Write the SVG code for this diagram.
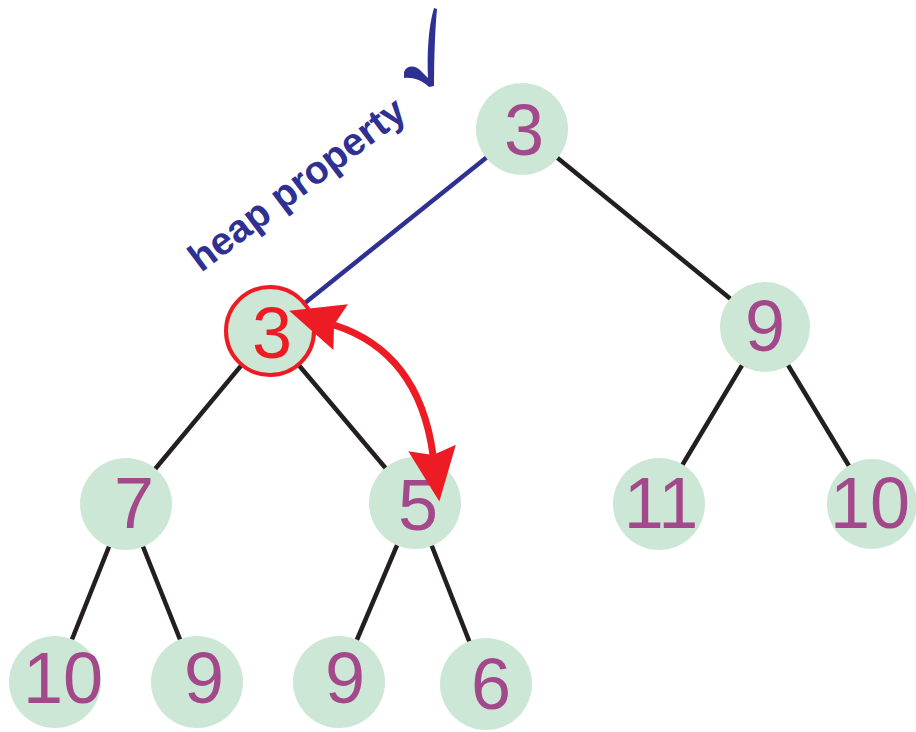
<svg xmlns="http://www.w3.org/2000/svg" width="916" height="732" viewBox="0 0 916 732">
  <style>
    .edge { stroke: #231f20; stroke-width: 4.5; fill: none; }
    .edge.ok { stroke: #2e3192; }
    .node circle { fill: #cde7d6; }
    .node text { font-family: "Liberation Sans", Arial, sans-serif; font-size: 72px; fill: #a3488a; text-anchor: middle; }
    .node.hot circle { stroke: #ed1c24; stroke-width: 4; }
    .node.hot text { fill: #ed1c24; }
    .swap { stroke: #ed1c24; stroke-width: 7; fill: none; }
    .note { font-family: "Liberation Sans", Arial, sans-serif; font-weight: bold; font-size: 39px; fill: #2e3192; }
  </style>
  <defs>
    <marker id="head" markerUnits="userSpaceOnUse" markerWidth="54" markerHeight="48" refX="7" refY="24" orient="auto-start-reverse" viewBox="0 0 54 48">
      <path d="M0,0 L54,24 L0,48 L7,24 Z" fill="#ed1c24"/>
    </marker>
  </defs>

  <!-- connectors -->
  <g id="edges">
    <line class="edge ok" x1="522" y1="129" x2="270" y2="331"/>
    <line class="edge" x1="522" y1="129" x2="765" y2="327"/>
    <line class="edge" x1="270" y1="331" x2="126" y2="504"/>
    <line class="edge" x1="270" y1="331" x2="415" y2="503"/>
    <line class="edge" x1="765" y1="327" x2="659" y2="504"/>
    <line class="edge" x1="765" y1="327" x2="872" y2="504"/>
    <line class="edge" x1="126" y1="504" x2="55" y2="682"/>
    <line class="edge" x1="126" y1="504" x2="197" y2="682"/>
    <line class="edge" x1="415" y1="503" x2="339" y2="682"/>
    <line class="edge" x1="415" y1="503" x2="486" y2="684"/>
  </g>

  <!-- nodes -->
  <g id="n-root" class="node"><circle cx="522" cy="129" r="46"/><text x="524" y="155">3</text></g>
  <g id="n-left" class="node hot"><circle cx="270" cy="331" r="44"/><text x="272" y="358">3</text></g>
  <g id="n-right" class="node"><circle cx="765" cy="327" r="45"/><text x="765" y="351">9</text></g>
  <g id="n-ll" class="node"><circle cx="126" cy="504" r="46"/><text x="134" y="528">7</text></g>
  <g id="n-lr" class="node"><circle cx="415" cy="503" r="46"/><text x="418" y="530">5</text></g>
  <g id="n-rl" class="node"><circle cx="659" cy="504" r="46"/><text x="661" y="528">11</text></g>
  <g id="n-rr" class="node"><circle cx="872" cy="504" r="45"/><text x="870" y="528">10</text></g>
  <g id="n-lll" class="node"><circle cx="55" cy="682" r="46"/><text x="63" y="703">10</text></g>
  <g id="n-llr" class="node"><circle cx="197" cy="682" r="46"/><text x="204" y="703">9</text></g>
  <g id="n-lrl" class="node"><circle cx="339" cy="682" r="46"/><text x="345" y="703">9</text></g>
  <g id="n-lrr" class="node"><circle cx="486" cy="684" r="46"/><text x="491" y="709">6</text></g>

  <!-- swap arrow between the left child and its right child -->
  <g id="swap">
    <path class="swap" d="M334,325 Q419,352 433,455" marker-start="url(#head)" marker-end="url(#head)"/>
  </g>

  <!-- annotation -->
  <g id="note">
    <text class="note" transform="translate(201,273) rotate(-37)">heap property</text>
    <path d="M404,72 C407,65 415,65 421,71 L428,78 C427,55 428,28 434,8 L437,9 C435,30 434,60 434,86 L429,87 C422,80 412,77 404,78 Z" fill="#2e3192"/>
  </g>
</svg>
